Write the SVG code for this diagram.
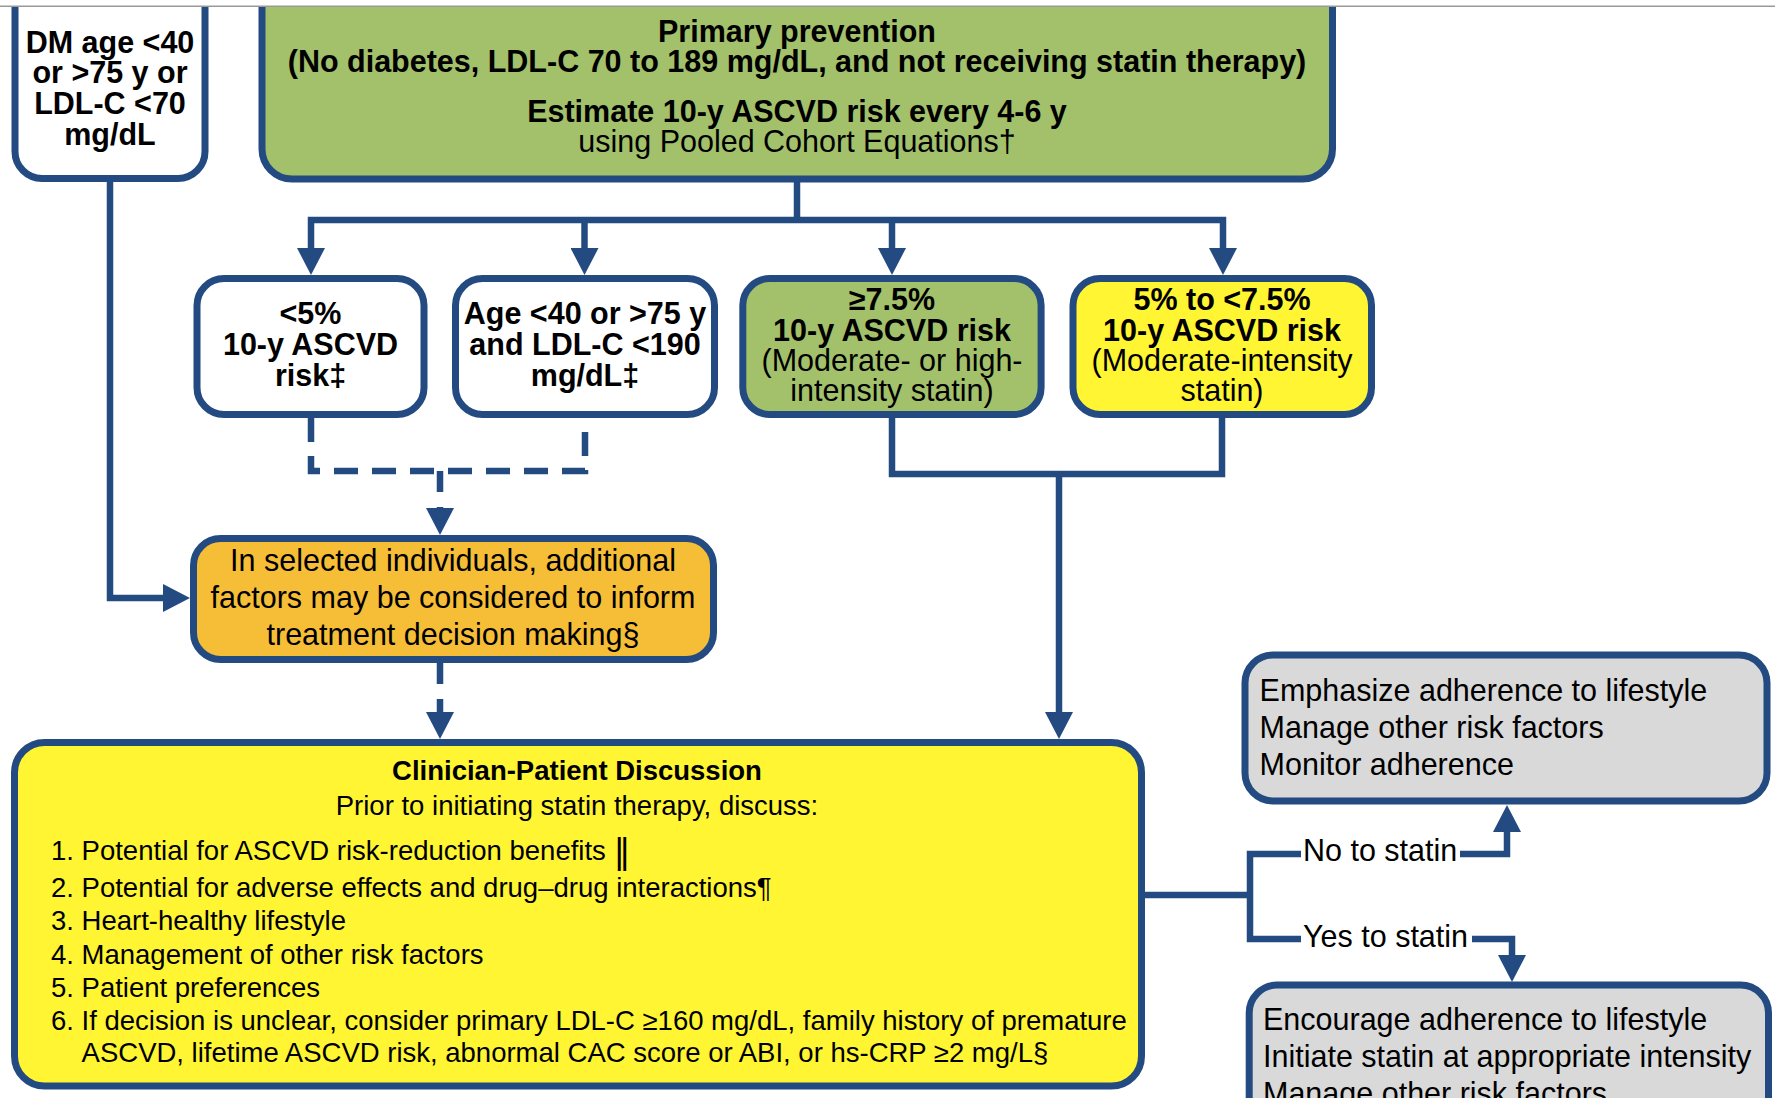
<svg xmlns="http://www.w3.org/2000/svg" width="1775" height="1103" viewBox="0 0 1775 1103">
<defs>
<style>
.box{stroke:#234B82;stroke-width:7}
.white{fill:#fff}
.green{fill:#A3C06B}
.yellow{fill:#FFF533}
.orange{fill:#F5BE36}
.gray{fill:#D9D9D9}
text{font-family:"Liberation Sans",Arial,sans-serif;fill:#000}
.b30{font-size:30.5px;font-weight:bold}
.r30{font-size:30.5px}
.b27{font-size:27.5px;font-weight:bold}
.r27{font-size:27.5px}
.c{text-anchor:middle}
.conn{fill:none;stroke:#234B82;stroke-width:6.5;stroke-linejoin:miter}
.dash{stroke-dasharray:24 14}
.dash2{stroke-dasharray:21 15}
</style>
<marker id="arr" markerUnits="userSpaceOnUse" viewBox="0 0 27 28" refX="0" refY="14" markerWidth="27" markerHeight="28" orient="auto-start-reverse"><path d="M0,0 L27,14 L0,28 Z" fill="#234B82"/></marker>
<clipPath id="clip"><rect x="0" y="7" width="1775" height="1091"/></clipPath>
</defs>
<rect x="0" y="0" width="1775" height="1103" fill="#fff"/>
<line x1="0" y1="6.3" x2="1775" y2="6.3" stroke="#9a9a9a" stroke-width="1.5"/>
<g clip-path="url(#clip)">
<g id="connectors">
<path class="conn" d="M110,182 V598 H163" marker-end="url(#arr)"/>
<path class="conn" d="M797,182 V220"/>
<path class="conn" d="M311,248 V220 H1223 V248" marker-start="url(#arr)" marker-end="url(#arr)"/>
<path class="conn" d="M584.5,220 V248" marker-end="url(#arr)"/>
<path class="conn" d="M892,220 V248" marker-end="url(#arr)"/>
<path class="conn dash" d="M311,418 V471 H585 V418"/>
<path class="conn dash2" d="M440,471 V508" marker-end="url(#arr)"/>
<path class="conn dash2" d="M440,663 V712" marker-end="url(#arr)"/>
<path class="conn" d="M892,418 V474 H1222 V418"/>
<path class="conn" d="M1059,474 V712" marker-end="url(#arr)"/>
<path class="conn" d="M1145,895 H1250"/>
<path class="conn" d="M1301,854 H1250 V939 H1301"/>
<path class="conn" d="M1460,854 H1507 V832" marker-end="url(#arr)"/>
<path class="conn" d="M1472,939 H1512 V955" marker-end="url(#arr)"/>
<text class="r30" x="1303" y="861">No to statin</text>
<text class="r30" x="1303" y="947">Yes to statin</text>
</g>
<g id="dm">
<rect class="box white" x="15" y="-30" width="190" height="208.5" rx="27"/>
<text class="b30 c" x="110" y="52.5">DM age &lt;40</text>
<text class="b30 c" x="110" y="83.3">or &gt;75 y or</text>
<text class="b30 c" x="110" y="114.1">LDL-C &lt;70</text>
<text class="b30 c" x="110" y="144.9">mg/dL</text>
</g>
<g id="primary">
<rect class="box green" x="262" y="-30" width="1070.5" height="209" rx="30"/>
<text class="b30 c" x="797" y="42">Primary prevention</text>
<text class="b30 c" x="797" y="72">(No diabetes, LDL-C 70 to 189 mg/dL, and not receiving statin therapy)</text>
<text class="b30 c" x="797" y="122">Estimate 10-y ASCVD risk every 4-6 y</text>
<text class="r30 c" x="797" y="152">using Pooled Cohort Equations†</text>
</g>
<g id="lt5">
<rect class="box white" x="197" y="278.5" width="227" height="136" rx="27"/>
<text class="b30 c" x="310.5" y="323.5">&lt;5%</text>
<text class="b30 c" x="310.5" y="354.5">10-y ASCVD</text>
<text class="b30 c" x="310.5" y="385.5">risk‡</text>
</g>
<g id="age">
<rect class="box white" x="455.5" y="278.5" width="259" height="136" rx="27"/>
<text class="b30 c" x="585" y="323.5">Age &lt;40 or &gt;75 y</text>
<text class="b30 c" x="585" y="354.5">and LDL-C &lt;190</text>
<text class="b30 c" x="585" y="385.5">mg/dL‡</text>
</g>
<g id="ge75">
<rect class="box green" x="742.8" y="278.5" width="298.3" height="136" rx="27"/>
<text class="b30 c" x="892" y="310">≥7.5%</text>
<text class="b30 c" x="892" y="340.5">10-y ASCVD risk</text>
<text class="r30 c" x="892" y="370.5">(Moderate- or high-</text>
<text class="r30 c" x="892" y="400.5">intensity statin)</text>
</g>
<g id="mid">
<rect class="box yellow" x="1073" y="278.5" width="298.5" height="136" rx="27"/>
<text class="b30 c" x="1222" y="310">5% to &lt;7.5%</text>
<text class="b30 c" x="1222" y="340.5">10-y ASCVD risk</text>
<text class="r30 c" x="1222" y="370.5">(Moderate-intensity</text>
<text class="r30 c" x="1222" y="400.5">statin)</text>
</g>
<g id="factors">
<rect class="box orange" x="193.5" y="538.5" width="520" height="121" rx="27"/>
<text class="r30 c" x="453" y="571">In selected individuals, additional</text>
<text class="r30 c" x="453" y="608">factors may be considered to inform</text>
<text class="r30 c" x="453" y="645">treatment decision making§</text>
</g>
<g id="discussion">
<rect class="box yellow" x="14.5" y="742.5" width="1127" height="343.5" rx="30"/>
<text class="b27 c" x="577" y="780">Clinician-Patient Discussion</text>
<text class="r27 c" x="577" y="815">Prior to initiating statin therapy, discuss:</text>
<text class="r27" x="51" y="860">1. Potential for ASCVD risk-reduction benefits <tspan font-size="34" font-family="DejaVu Sans, sans-serif" dy="3">‖</tspan></text>
<text class="r27" x="51" y="897">2. Potential for adverse effects and drug–drug interactions¶</text>
<text class="r27" x="51" y="930">3. Heart-healthy lifestyle</text>
<text class="r27" x="51" y="963.5">4. Management of other risk factors</text>
<text class="r27" x="51" y="997">5. Patient preferences</text>
<text class="r27" x="51" y="1030">6. If decision is unclear, consider primary LDL-C ≥160 mg/dL, family history of premature</text>
<text class="r27" x="81.6" y="1062">ASCVD, lifetime ASCVD risk, abnormal CAC score or ABI, or hs-CRP ≥2 mg/L§</text>
</g>
<g id="nostatin">
<rect class="box gray" x="1245" y="655" width="522" height="146" rx="28"/>
<text class="r30" x="1259.6" y="700.5">Emphasize adherence to lifestyle</text>
<text class="r30" x="1259.6" y="737.5">Manage other risk factors</text>
<text class="r30" x="1259.6" y="774.5">Monitor adherence</text>
</g>
<g id="yesstatin">
<rect class="box gray" x="1249.2" y="985" width="519.3" height="200" rx="28"/>
<text class="r30" x="1263" y="1030">Encourage adherence to lifestyle</text>
<text class="r30" x="1263" y="1067">Initiate statin at appropriate intensity</text>
<text class="r30" x="1263" y="1104">Manage other risk factors</text>
</g>
</g>
</svg>
